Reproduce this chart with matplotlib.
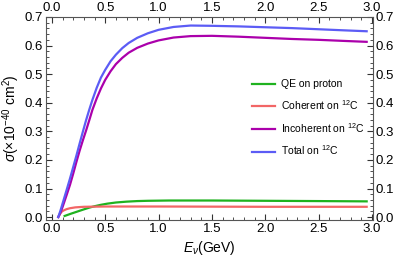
import matplotlib

matplotlib.use("Agg")

import matplotlib.pyplot as plt
from matplotlib.ticker import AutoMinorLocator, MultipleLocator

plt.rcParams["font.family"] = ["Liberation Sans", "DejaVu Sans"]
plt.rcParams["mathtext.fontset"] = "custom"
plt.rcParams["mathtext.rm"] = "Liberation Sans"
plt.rcParams["mathtext.it"] = "Liberation Sans:italic"

# values
e_qe = [0.12, 0.15, 0.18, 0.22, 0.26, 0.30, 0.35, 0.40, 0.46, 0.52, 0.60, 0.70, 0.80, 0.90,
        1.10, 1.50, 2.00, 2.50, 2.95]
qe = [0.004, 0.008, 0.012, 0.017, 0.022, 0.027, 0.033, 0.038, 0.043, 0.047, 0.051, 0.054, 0.056,
      0.057, 0.058, 0.058, 0.057, 0.056, 0.055]

e_coh = [0.06, 0.07, 0.08, 0.09, 0.10, 0.12, 0.14, 0.17, 0.22, 0.30, 0.50, 1.00, 2.00, 2.95]
coh = [0.0, 0.007, 0.013, 0.018, 0.021, 0.025, 0.028, 0.031, 0.034, 0.036, 0.037, 0.037, 0.036, 0.036]

e_inc = [0.06, 0.08, 0.10, 0.12, 0.14, 0.17, 0.20, 0.23, 0.26, 0.29, 0.32, 0.35, 0.38, 0.42,
         0.46, 0.50, 0.55, 0.60, 0.66, 0.72, 0.80, 0.90, 1.00, 1.14, 1.30, 1.50, 1.75, 2.00,
         2.25, 2.50, 2.75, 2.95]
inc = [0.0, 0.015, 0.035, 0.057, 0.079, 0.113, 0.152, 0.193, 0.232, 0.268, 0.302, 0.338, 0.375,
       0.415, 0.450, 0.480, 0.510, 0.535, 0.557, 0.575, 0.592, 0.607, 0.618, 0.628, 0.633, 0.634,
       0.631, 0.627, 0.623, 0.620, 0.616, 0.613]

e_tot = [0.06, 0.08, 0.10, 0.12, 0.14, 0.17, 0.20, 0.23, 0.26, 0.29, 0.32, 0.35, 0.38, 0.42,
         0.46, 0.50, 0.55, 0.60, 0.66, 0.72, 0.80, 0.90, 1.00, 1.14, 1.30, 1.50, 1.75, 2.00,
         2.25, 2.50, 2.75, 2.95]
tot = [0.0, 0.022, 0.047, 0.072, 0.097, 0.135, 0.175, 0.215, 0.257, 0.298, 0.338, 0.375, 0.410,
       0.452, 0.488, 0.515, 0.545, 0.568, 0.591, 0.609, 0.627, 0.643, 0.655, 0.665, 0.670, 0.669,
       0.667, 0.664, 0.661, 0.657, 0.653, 0.650]

series = [
    (e_qe, qe, "#1fb21f", "QE on proton"),
    (e_coh, coh, "#f26666", "Coherent on $^{12}$C"),
    (e_inc, inc, "#ab00ab", "Incoherent on $^{12}$C"),
    (e_tot, tot, "#5c5cf5", "Total on $^{12}$C"),
]

fig = plt.figure(figsize=(3.99, 2.65), dpi=100)
ax = fig.add_axes([0.115, 0.170, 0.820, 0.766])

for x, y, color, label in series:
    ax.plot(x, y, color=color, lw=1.6, label=label, solid_joinstyle="round")

ax.set_xlim(-0.056, 3.01)
ax.set_ylim(-0.01, 0.70)
ax.xaxis.set_major_locator(MultipleLocator(0.5))
ax.yaxis.set_major_locator(MultipleLocator(0.1))
ax.xaxis.set_minor_locator(AutoMinorLocator(5))
ax.yaxis.set_minor_locator(AutoMinorLocator(5))
ax.xaxis.set_major_formatter(plt.FormatStrFormatter("%.1f"))
ax.yaxis.set_major_formatter(plt.FormatStrFormatter("%.1f"))
ax.tick_params(which="both", direction="in", top=True, right=True,
               labeltop=True, labelright=True, colors="#333333",
               labelcolor="black", labelsize=9.5, pad=2)
ax.tick_params(which="major", length=4, width=0.8)
ax.tick_params(which="minor", length=2, width=0.6)
for spine in ax.spines.values():
    spine.set_color("#555555")
    spine.set_linewidth(0.8)

ax.set_xlabel(r"$E_{\nu}$(GeV)", fontsize=10, labelpad=3)
ax.set_ylabel(r"$\sigma$(×10$^{-40}$ cm$^{2}$)", fontsize=10, labelpad=2)

ax.legend(loc="center right", bbox_to_anchor=(1.005, 0.50), frameon=False,
          fontsize=7.5, handlelength=2.15, handletextpad=0.65, labelspacing=0.85)

fig.savefig("out.png", dpi=100)
